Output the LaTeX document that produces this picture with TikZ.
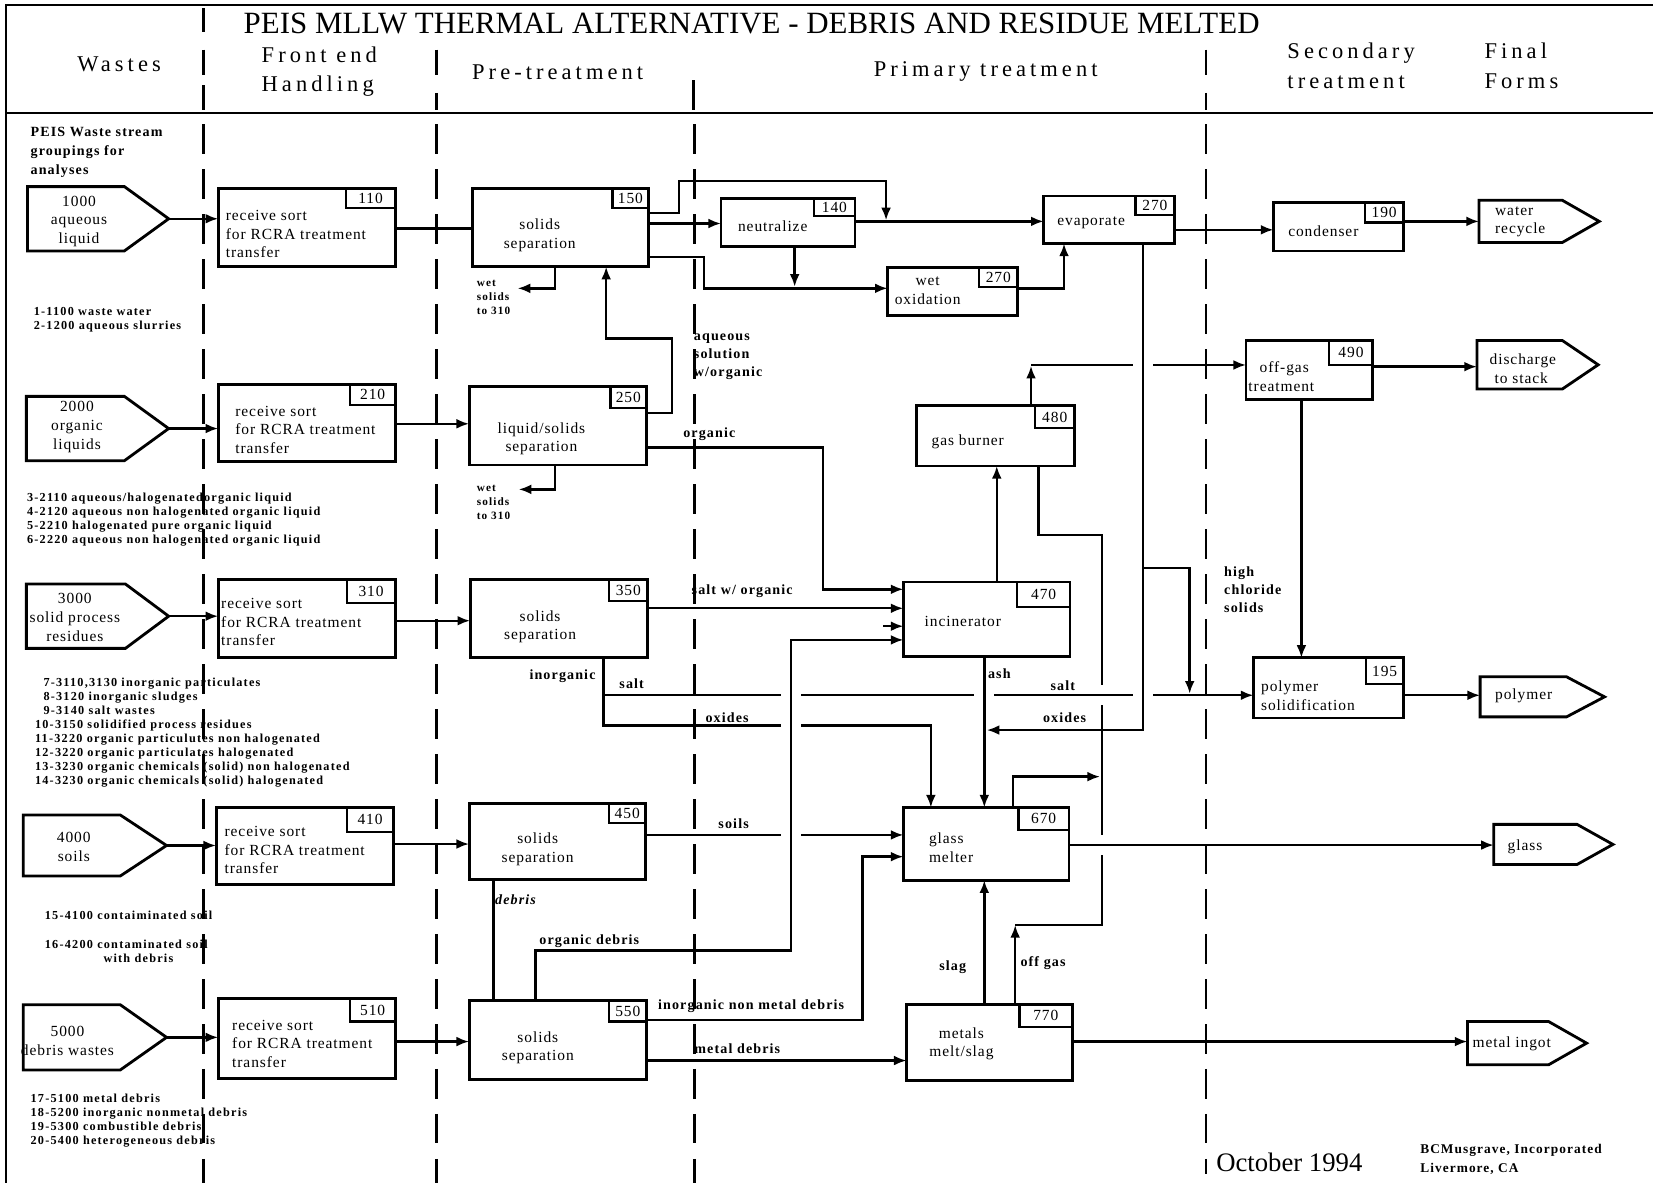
\documentclass[tikz,border=0pt]{standalone}
\usepackage{fontspec}
\setmainfont{Liberation Serif}
\newfontfamily\titlef{Liberation Serif}
\newfontfamily\headf{Liberation Serif}[LetterSpace=18]
\newfontfamily\boxf{Liberation Serif}[LetterSpace=6]
\newfontfamily\labf{Liberation Serif}[LetterSpace=8]
\newfontfamily\listf{Liberation Serif}[LetterSpace=10]
\usetikzlibrary{arrows.meta,fit}

\tikzset{
  frame/.style={line width=1.5pt},
  divider/.style={line width=1.9pt, dash pattern=on 21pt off 11pt},
  divseg/.style={line width=1.9pt},
  procbox/.style={draw, line width=2pt, fill=white, inner sep=0pt, outer sep=0pt},
  numtag/.style={draw, line width=1.6pt, inner sep=0pt, outer sep=0pt},
  numtxt/.style={inner sep=0pt, font=\boxf\fontsize{11}{12}\selectfont},
  pent/.style={draw, line width=2pt, fill=white, line join=miter},
  conn/.style={line width=1.7pt},
  flow/.style={conn, -{Latex[length=9pt,width=7pt]}},
  boxtxt/.style={inner sep=0pt, align=left, font=\boxf\fontsize{11}{13.3}\selectfont},
  ctrtxt/.style={inner sep=0pt, align=center, font=\boxf\fontsize{11}{13.3}\selectfont},
  lab/.style={inner sep=0pt, font=\labf\bfseries\fontsize{10}{13}\selectfont},
  listtxt/.style={inner sep=0pt, align=left, anchor=west, font=\listf\bfseries\fontsize{8.7}{10}\selectfont},
  wettxt/.style={inner sep=0pt, align=left, anchor=west, font=\listf\bfseries\fontsize{8}{10}\selectfont},
  head/.style={inner sep=0pt, font=\headf\fontsize{16}{21.5}\selectfont},
  gap/.style={fill=white},
}

\begin{document}
\begin{tikzpicture}[x=0.75pt,y=-0.75pt]
\useasboundingbox (0,0) rectangle (1568,1122);

% ---------- frame and column dividers ----------
\draw[frame] (6,1122) -- (6,4.5) -- (1568,4.5);
\draw[frame] (6,107) -- (1568,107);
\draw[divseg] (193,8) -- (193,30) (193,47) -- (193,71) (193,81) -- (193,104);
\draw[divseg] (414,47) -- (414,71) (414,88) -- (414,104);
\draw[divseg] (658,76) -- (658,104);
\draw[divseg] (1144,47) -- (1144,71) (1144,88) -- (1144,104);
\foreach \dx in {193,414,659} \draw[divider] (\dx,118) -- (\dx,1122);
\draw[divider] (1144,118) -- (1144,1114);

% ---------- waste streams (inputs) ----------
\draw[pent] (26,177) -- (118,177) -- (160,207.5) coordinate (w1) -- (118,238) -- (26,238) -- cycle;
\draw[pent] (25,376) -- (118,376) -- (160,406.5) coordinate (w2) -- (118,437) -- (25,437) -- cycle;
\draw[pent] (25,554) -- (119,554) -- (160,584.5) coordinate (w3) -- (119,615) -- (25,615) -- cycle;
\draw[pent] (22,773) -- (114,773) -- (158,802) coordinate (w4) -- (114,831) -- (22,831) -- cycle;
\draw[pent] (22,953) -- (114,953) -- (158,984) coordinate (w5) -- (114,1015) -- (22,1015) -- cycle;

% ---------- final forms (outputs) ----------
\draw[pent] (1403,190) coordinate (f1a) -- (1482,190) -- (1517,210) -- (1482,230) -- (1403,230) -- cycle;
\draw[pent] (1401,323) coordinate (f2a) -- (1482,323) -- (1516,346) -- (1482,369) -- (1401,369) -- cycle;
\draw[pent] (1404,642) coordinate (f3a) -- (1486,642) -- (1522,661) -- (1486,680) -- (1404,680) -- cycle;
\draw[pent] (1417,782) coordinate (f4a) -- (1496,782) -- (1530,801) -- (1496,820) -- (1417,820) -- cycle;
\draw[pent] (1392,969) coordinate (f5a) -- (1469,969) -- (1505,989.5) -- (1469,1010) -- (1392,1010) -- cycle;

% ---------- process boxes with their unit numbers ----------
\node[procbox, fit={(207,179)(375,253)}] (b110) {};
\node[numtag, fit={(328,179)(375,197)}] (t110) {};
\node[procbox, fit={(207,365)(375,438)}] (b210) {};
\node[numtag, fit={(332,365)(375,384)}] (t210) {};
\node[procbox, fit={(207,550)(375,624)}] (b310) {};
\node[numtag, fit={(329,550)(375,572)}] (t310) {};
\node[procbox, fit={(205,766)(373,839)}] (b410) {};
\node[numtag, fit={(329,766)(373,789)}] (t410) {};
\node[procbox, fit={(207,947)(375,1023)}] (b510) {};
\node[numtag, fit={(332,947)(375,969)}] (t510) {};

\node[procbox, fit={(448,179)(615,253)}] (b150) {};
\node[numtag, fit={(581,179)(615,197)}] (t150) {};
\node[procbox, fit={(445,367)(613,441)}] (b250) {};
\node[numtag, fit={(579,367)(613,387)}] (t250) {};
\node[procbox, fit={(446,550)(614,624)}] (b350) {};
\node[numtag, fit={(578,550)(614,570)}] (t350) {};
\node[procbox, fit={(445,762)(612,834)}] (b450) {};
\node[numtag, fit={(578,762)(612,781)}] (t450) {};
\node[procbox, fit={(445,949)(613,1024)}] (b550) {};
\node[numtag, fit={(578,949)(613,969)}] (t550) {};

\node[procbox, fit={(684,188)(811,234)}] (b140) {};
\node[numtag, fit={(772,188)(811,205)}] (t140) {};
\node[procbox, fit={(990,186)(1114,231)}] (b270e) {};
\node[numtag, fit={(1077,186)(1114,204)}] (t270e) {};
\node[procbox, fit={(842,254)(965,299)}] (b270w) {};
\node[numtag, fit={(929,254)(965,272)}] (t270w) {};
\node[procbox, fit={(869,385)(1019,442)}] (b480) {};
\node[numtag, fit={(982,385)(1019,406)}] (t480) {};
\node[procbox, fit={(857,552)(1015,623)}] (b470) {};
\node[numtag, fit={(965,552)(1015,576)}] (t470) {};
\node[procbox, fit={(857,766)(1014,835)}] (b670) {};
\node[numtag, fit={(966,766)(1014,787)}] (t670) {};
\node[procbox, fit={(860,953)(1017,1025)}] (b770) {};
\node[numtag, fit={(967,953)(1017,974)}] (t770) {};

\node[procbox, fit={(1208,192)(1331,238)}] (b190) {};
\node[numtag, fit={(1295,192)(1331,211)}] (t190) {};
\node[procbox, fit={(1182,323)(1302,379)}] (b490) {};
\node[numtag, fit={(1261,323)(1302,346)}] (t490) {};
\node[procbox, fit={(1189,624)(1331,681)}] (b195) {};
\node[numtag, fit={(1296,624)(1331,649)}] (t195) {};

\foreach \u/\n in {110/110,210/210,310/310,410/410,510/510,150/150,250/250,350/350,450/450,550/550,
                   140/140,270e/270,270w/270,480/480,470/470,670/670,770/770,190/190,490/490,195/195}
  \node[numtxt] (k\u) at (t\u.center) {\n};

% ---------- off-gas return path to the gas burner (drawn first, gets gaps) ----------
\coordinate (og) at (963,877.4);
\draw[conn] (og) -- (1045.5,877.4) -- (1045.5,507.5) -- (985,507.5) -- (b480.south -| 985,0);
\fill[gap] (1041.5,650) rectangle (1049.5,669);
\fill[gap] (1041.5,792) rectangle (1049.5,811);

% ---------- long horizontal streams (get gaps where verticals pass) ----------
\draw[flow] (b350.south -| 572.5,0) -- (572.5,659.5) -- (b195.west |- 0,659.5);
\draw[flow] (572.5,659.5) -- (572.5,688) -- (883,688) -- (b670.north -| 883,0);
\draw[flow] (b450.east |- 0,792) -- (b670.west |- 0,792);
\coordinate (gb) at (978,347);
\draw[flow] (b480.north -| 978,0) -- (gb);
\draw[flow] (978,346.2) -- (b490.west |- 0,346.2);
\fill[gap] (741,655) rectangle (760,664);
\fill[gap] (741,683.5) rectangle (760,692.5);
\fill[gap] (741,787.5) rectangle (760,796.5);
\fill[gap] (924,655) rectangle (943,664);
\fill[gap] (1074.5,655) rectangle (1093.5,664);
\fill[gap] (1074.5,341.7) rectangle (1093.5,350.7);

% ---------- front end ----------
\draw[flow] (w1) -- (b110.west |- w1);
\draw[conn] (b110.east |- 0,216.6) -- (b150.west |- 0,216.6);
\draw[flow] (w2) -- (b210.west |- w2);
\draw[flow] (b210.east |- 0,402) -- (b250.west |- 0,402);
\draw[flow] (w3) -- (b310.west |- w3);
\draw[flow] (b310.east |- 0,588.8) -- (b350.west |- 0,588.8);
\draw[flow] (w4) -- (b410.west |- w4);
\draw[flow] (b410.east |- 0,800.6) -- (b450.west |- 0,800.6);
\draw[flow] (w5) -- (b510.west |- w5);
\draw[flow] (b510.east |- 0,988) -- (b550.west |- 0,988);

% ---------- aqueous train ----------
\draw[flow] (b150.east |- 0,202) -- (644,202) -- (644,171.5) -- (840.5,171.5) -- (840.5,209);
\draw[flow] (b150.east |- 0,212) -- (b140.west |- 0,212);
\draw[flow] (b150.east |- 0,244) -- (668,244) -- (668,273.5) -- (b270w.west |- 0,273.5);
\draw[flow] (b140.east |- 0,210) -- (b270e.west |- 0,210);
\draw[flow] (b140.south -| 753.8,0) -- (753.8,272);
\draw[flow] (b270w.east |- 0,273.5) -- (1009.3,273.5) -- (b270e.south -| 1009.3,0);
\draw[flow] (b270e.east |- 0,218) -- (b190.west |- 0,218);
\draw[flow] (b190.east |- 0,210) -- (f1a |- 0,210);
\coordinate (wet1) at (491,273.5);
\coordinate (wet2) at (492,464.2);
\draw[flow] (b150.south -| 526.4,0) -- (526.4,273.5) -- (wet1);
\draw[flow] (b250.south -| 526.4,0) -- (526.4,464.2) -- (wet2);
\draw[flow] (b250.east |- 0,392) -- (637.3,392) -- (637.3,321) -- (575,321) -- (b150.south -| 575,0);

% ---------- incinerator feeds ----------
\draw[flow] (b250.east |- 0,424.3) -- (780.5,424.3) -- (780.5,559) -- (b470.west |- 0,559);
\draw[flow] (b350.east |- 0,577) -- (b470.west |- 0,577);
\coordinate (stub) at (838,594);
\draw[flow] (stub) -- (b470.west |- stub);
\draw[flow] (b550.north -| 507.8,0) -- (507.8,901.5) -- (750.5,901.5) -- (750.5,607) -- (b470.west |- 0,607);
\draw[conn] (b450.south -| 468,0) -- (b550.north -| 468,0);

% ---------- incinerator, gas burner and off-gas ----------
\draw[flow] (b470.north -| 945.5,0) -- (b480.south -| 945.5,0);
\draw[flow] (b470.south -| 933.7,0) -- (b670.north -| 933.7,0);
\coordinate (oxin) at (936,692.5);
\draw[flow] (b270e.south -| 1084,0) -- (1084,692.5) -- (oxin);
\coordinate (hcl) at (1128.5,658);
\draw[flow] (1084,538.5) -- (1128.5,538.5) -- (hcl);
\draw[flow] (b490.east |- 0,347.8) -- (f2a |- 0,347.8);
\draw[flow] (b490.south -| 1234.5,0) -- (b195.north -| 1234.5,0);
\draw[flow] (b195.east |- 0,659.5) -- (f3a |- 0,659.5);

% ---------- melters ----------
\draw[flow] (b670.north -| 960.7,0) -- (960.7,736.7) -- (1043.5,736.7);
\draw[flow] (b670.east |- 0,801.6) -- (f4a |- 0,801.6);
\draw[flow] (b550.east |- 0,967.6) -- (818,967.6) -- (818,812.6) -- (b670.west |- 0,812.6);
\draw[flow] (b550.east |- 0,1006) -- (b770.west |- 0,1006);
\draw[flow] (b770.north -| 933.7,0) -- (b670.south -| 933.7,0);
\draw[flow] (b770.north -| 963,0) -- (og);
\draw[flow] (b770.east |- 0,988) -- (f5a |- 0,988);

% ---------- header ----------
\node[font=\titlef\fontsize{22}{24}\selectfont, inner sep=0pt] (title) at (713,22) {PEIS MLLW THERMAL ALTERNATIVE - DEBRIS AND RESIDUE MELTED};
\node[head] (hwaste) at (113,61) {Wastes};
\node[head, align=left, anchor=west, font=\headf\fontsize{16}{21}\selectfont] (hfront) at (248,68) {Front end\\Handling};
\node[head] (hpre) at (529,69) {Pre-treatment};
\node[head] (hprim) at (935,68) {Primary treatment};
\node[head, align=left, anchor=west, font=\headf\fontsize{16}{21.75}\selectfont] (hsec) at (1221,62.5) {Secondary\\treatment};
\node[head, align=left, anchor=west, font=\headf\fontsize{16}{21.75}\selectfont] (hfin) at (1408,62.5) {Final\\Forms};

% ---------- waste stream notes ----------
\node[lab, align=left, anchor=west, font=\labf\bfseries\fontsize{10}{13.6}\selectfont] (lpeis) at (28.8,144.7) {PEIS Waste stream\\groupings for\\analyses};
\node[listtxt] (l1) at (31.8,303) {1-1100 waste water\\2-1200 aqueous slurries};
\node[listtxt] (l2) at (25.4,492.5) {3-2110 aqueous/halogenatedorganic liquid\\4-2120 aqueous non halogenated organic liquid\\5-2210 halogenated pure organic liquid\\6-2220 aqueous non halogenated organic liquid};
\node[listtxt] (l3) at (33,695) {\hspace*{6pt}7-3110,3130 inorganic particulates\\\hspace*{6pt}8-3120 inorganic sludges\\\hspace*{6pt}9-3140 salt wastes\\10-3150 solidified process residues\\11-3220 organic particulutes non halogenated\\12-3220 organic particulates halogenated\\13-3230 organic chemicals (solid) non halogenated\\14-3230 organic chemicals (solid) halogenated};
\node[listtxt] (l4) at (42.3,868.6) {15-4100 contaiminated soil};
\node[listtxt] (l5) at (42.3,895.5) {16-4200 contaminated soil};
\node[listtxt, anchor=center] (l6) at (131.3,909) {with debris};
\node[listtxt] (l7) at (28.8,1062.8) {17-5100 metal debris\\18-5200 inorganic nonmetal debris\\19-5300 combustible debris\\20-5400 heterogeneous debris};

% ---------- stream and form texts ----------
\node[ctrtxt] (n1000) at (75,210) {1000\\aqueous\\liquid};
\node[ctrtxt] (n2000) at (73,405.2) {2000\\organic\\liquids};
\node[ctrtxt] (n3000) at (71,585.5) {3000\\solid process\\residues};
\node[ctrtxt] (n4000) at (70,803.5) {4000\\soils};
\node[ctrtxt] (n5000) at (64,987.6) {5000\\debris wastes};
\node[boxtxt, anchor=west] (nwater) at (1418,210.3) {water\\recycle};
\node[boxtxt, anchor=west] (ndis) at (1412.8,349.9) {discharge\\\hspace*{3.5pt}to stack};
\node[ctrtxt] (npoly) at (1445.3,659.8) {polymer};
\node[ctrtxt] (nglass) at (1446.6,803) {glass};
\node[ctrtxt] (ningot) at (1434,990) {metal ingot};

% ---------- process texts ----------
\node[boxtxt, anchor=west] (x110) at (214,222) {receive sort\\for RCRA treatment\\transfer};
\node[boxtxt, anchor=west] (x210) at (223,407.7) {receive sort\\for RCRA treatment\\transfer};
\node[boxtxt, anchor=west] (x310) at (209.6,590) {receive sort\\for RCRA treatment\\transfer};
\node[boxtxt, anchor=west] (x410) at (212.8,806.3) {receive sort\\for RCRA treatment\\transfer};
\node[boxtxt, anchor=west] (x510) at (220,990) {receive sort\\for RCRA treatment\\transfer};
\node[ctrtxt] (x150) at (512,223.5) {solids\\separation};
\node[ctrtxt] (x250) at (513.6,416.3) {liquid/solids\\separation};
\node[ctrtxt] (x350) at (512.3,594.5) {solids\\separation};
\node[ctrtxt] (x450) at (510,805.8) {solids\\separation};
\node[ctrtxt] (x550) at (510.2,994) {solids\\separation};
\node[ctrtxt] (x140) at (733,214.4) {neutralize};
\node[ctrtxt] (x270e) at (1035,210.9) {evaporate};
\node[ctrtxt] (x270w) at (880,276) {wet\\oxidation};
\node[ctrtxt] (x480) at (918,419) {gas burner};
\node[ctrtxt] (x470) at (913.3,589.7) {incinerator};
\node[boxtxt, anchor=west] (x670) at (881,804.2) {glass\\melter};
\node[ctrtxt] (x770) at (912,990) {metals\\melt/slag};
\node[ctrtxt] (x190) at (1255.3,219.7) {condenser};
\node[boxtxt, anchor=west] (x490) at (1184,357.5) {\hspace*{8pt}off-gas\\treatment};
\node[boxtxt, anchor=west] (x195) at (1196,659.8) {polymer\\solidification};

% ---------- stream labels ----------
\node[wettxt] (lwet1) at (452,282.2) {wet\\solids\\to 310};
\node[wettxt] (lwet2) at (452,476.6) {wet\\solids\\to 310};
\node[lab, align=left, anchor=west] (laq) at (658,338.3) {aqueous\\solution\\w/organic};
\node[lab] (lorg) at (672.8,412) {organic};
\node[lab] (lsaltorg) at (704,560.6) {salt w/ organic};
\node[lab] (linorg) at (533.6,641.3) {inorganic};
\node[lab] (lsalt1) at (599.2,648.2) {salt};
\node[lab] (lox1) at (689.7,680.5) {oxides};
\node[lab, anchor=west] (lash) at (937,639.3) {ash};
\node[lab] (lsalt2) at (1008.2,650.4) {salt};
\node[lab] (lox2) at (1009.9,680.8) {oxides};
\node[lab] (lsoils) at (695.9,781) {soils};
\node[lab, font=\labf\bfseries\itshape\fontsize{10}{13}\selectfont] (ldebris) at (489,853.7) {debris};
\node[lab] (lorgdeb) at (559,892.6) {organic debris};
\node[lab] (linm) at (712.5,954.3) {inorganic non metal debris};
\node[lab] (lmetal) at (699.4,994.4) {metal debris};
\node[lab] (lslag) at (903.7,917) {slag};
\node[lab] (loffgas) at (989.4,913.8) {off gas};
\node[lab, align=left, anchor=west] (lhigh) at (1161,559.3) {high\\chloride\\solids};

% ---------- footer ----------
\node[font=\titlef\fontsize{19}{22}\selectfont, inner sep=0pt] (date) at (1223,1103) {October 1994};
\node[lab, align=left, anchor=west, font=\labf\bfseries\fontsize{9.5}{13.5}\selectfont] (firm) at (1347,1100) {BCMusgrave, Incorporated\\Livermore, CA};
\end{tikzpicture}
\end{document}
